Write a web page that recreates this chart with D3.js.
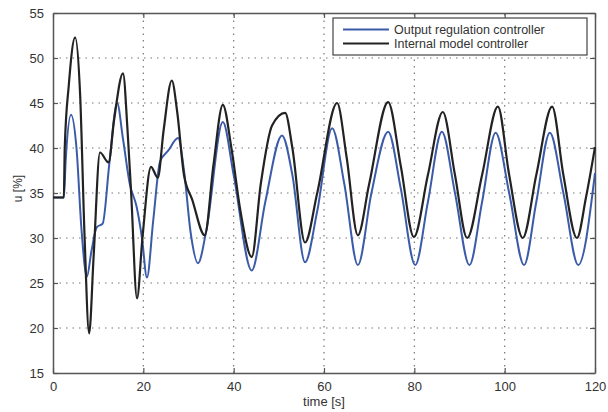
<!DOCTYPE html>
<html>
<head>
<meta charset="utf-8">
<script src="https://cdn.jsdelivr.net/npm/d3@7"></script>
<style>
  body { margin: 0; background: #fff; }
  text { font-family: "Liberation Sans", Arial, sans-serif; fill: #333; }
</style>
</head>
<body>
<div class="graph"></div>
<script>
const w = 608;
const h = 412;
const margin = {top: 13, right: 13, bottom: 39, left: 53};

const xTicks = [0, 20, 40, 60, 80, 100, 120];
const yTicks = [15, 20, 25, 30, 35, 40, 45, 50, 55];
const seriesNames = ["Output regulation controller", "Internal model controller"];
const seriesColors = ["#3b5ba9", "#222"];

// [time s, u %]
const outputRegulation = [
  [0, 34.5], [2.4, 34.5], [2.8, 38.5], [4, 43.7], [5.2, 40], [6.3, 31], [7.5, 25.7],
  [8.5, 28.5], [9.7, 31.2], [11, 31.6], [12.5, 38.4], [14.2, 45], [15.5, 41],
  [17, 36], [18.5, 33.5], [19.7, 30], [20.8, 25.6], [22.2, 32], [23.7, 38.5],
  [25.5, 39.7], [27.7, 41.1], [29, 37.5], [30.5, 30.5], [32.1, 27.2], [34, 31],
  [37.6, 42.9], [40, 37], [44, 26.4], [47, 34], [50.7, 41.4], [53, 37],
  [55.8, 27.3], [58.5, 33], [61.8, 42.2], [64.5, 36], [67.5, 27], [70.5, 35],
  [74.2, 41.8], [77, 35.5], [80.2, 27], [83, 34], [86.1, 41.8], [89, 35],
  [92.2, 27], [95, 34], [98, 41.7], [101, 35], [104.3, 27], [107, 34],
  [110, 41.7], [113, 35], [116.3, 27], [120, 37.2]
];

const internalModel = [
  [0, 34.5], [2.4, 34.5], [2.6, 40], [3.5, 47], [4.9, 52.3], [6, 46], [7, 30],
  [8, 19.4], [9, 28], [10.4, 39.5], [12.3, 38.4], [13.5, 43], [15.5, 48.3],
  [16.5, 42], [17.3, 35], [18.6, 23.3], [19.8, 30], [21.7, 37.9], [23.2, 36.7],
  [24.5, 42], [26.3, 47.5], [27.5, 44], [29, 37], [30.8, 34.3], [33.6, 30.3],
  [35.5, 38], [37.6, 44.8], [39.5, 40], [41.5, 33], [44, 27.9], [46, 36],
  [48.5, 42.5], [51.4, 43.9], [53, 40], [55.8, 29.5], [58.5, 35], [62.9, 45],
  [65, 39], [67.5, 30.3], [70, 36], [74.2, 45.1], [77, 38], [79.9, 30.1],
  [83, 37], [86.3, 44], [89, 37], [91.7, 30], [95, 37], [98.5, 44.6], [101, 37],
  [104, 30], [107, 37], [110.5, 44.6], [113, 37], [116, 30], [118, 34.5], [120, 40.1]
];

const x = d3.scaleLinear().domain([0, 120]).range([margin.left, w - margin.right]);
const y = d3.scaleLinear().domain([15, 55]).range([h - margin.bottom, margin.top]);

const svg = d3.select(".graph")
              .append("svg")
              .attr("width", w)
              .attr("height", h);

// grid
svg.append("g")
   .selectAll("line")
   .data(xTicks.slice(1, -1))
   .enter().append("line")
   .attr("x1", d => x(d)).attr("x2", d => x(d))
   .attr("y1", y(15)).attr("y2", y(55))
   .attr("stroke", "#777").attr("stroke-width", 1.2)
   .attr("stroke-dasharray", "1.5,5");

svg.append("g")
   .selectAll("line")
   .data(yTicks.slice(1, -1))
   .enter().append("line")
   .attr("x1", x(0)).attr("x2", x(120))
   .attr("y1", d => y(d)).attr("y2", d => y(d))
   .attr("stroke", "#777").attr("stroke-width", 1.2)
   .attr("stroke-dasharray", "1.5,5");

// axes (matlab style, ticks inward, all four sides)
const axisStyle = g => {
  g.select(".domain").attr("stroke", "#555").attr("stroke-width", 1.5);
  g.selectAll(".tick line").attr("stroke", "#555").attr("stroke-width", 1.2);
  g.selectAll("text").style("font-size", "13px").attr("fill", "#333");
};

svg.append("g")
   .attr("transform", `translate(0,${y(15)})`)
   .call(d3.axisBottom(x).tickValues(xTicks).tickSizeInner(-5).tickSizeOuter(0).tickPadding(9))
   .call(axisStyle);

svg.append("g")
   .attr("transform", `translate(0,${y(55)})`)
   .call(d3.axisTop(x).tickValues(xTicks).tickSizeInner(-5).tickSizeOuter(0).tickFormat(""))
   .call(axisStyle);

svg.append("g")
   .attr("transform", `translate(${x(0)},0)`)
   .call(d3.axisLeft(y).tickValues(yTicks).tickSizeInner(-5).tickSizeOuter(0).tickPadding(9))
   .call(axisStyle);

svg.append("g")
   .attr("transform", `translate(${x(120)},0)`)
   .call(d3.axisRight(y).tickValues(yTicks).tickSizeInner(-5).tickSizeOuter(0).tickFormat(""))
   .call(axisStyle);

// lines
const line = d3.line()
               .x(d => x(d[0]))
               .y(d => y(d[1]))
               .curve(d3.curveMonotoneX);

svg.append("path")
   .datum(outputRegulation)
   .attr("fill", "none")
   .attr("stroke", seriesColors[0])
   .attr("stroke-width", 2)
   .attr("d", line);

svg.append("path")
   .datum(internalModel)
   .attr("fill", "none")
   .attr("stroke", seriesColors[1])
   .attr("stroke-width", 2.2)
   .attr("d", line);

// axis labels
svg.append("text")
   .attr("x", (x(0) + x(120)) / 2)
   .attr("y", 406)
   .attr("text-anchor", "middle")
   .style("font-size", "13px")
   .text("time [s]");

svg.append("text")
   .attr("transform", `translate(22,${y(35.5)}) rotate(-90)`)
   .attr("text-anchor", "middle")
   .style("font-size", "12px")
   .text("u [%]");

// legend
const legend = svg.append("g").attr("transform", "translate(333,18)");
legend.append("rect")
      .attr("width", 254).attr("height", 37)
      .attr("fill", "#fff")
      .attr("stroke", "#444").attr("stroke-width", 1.2);

legend.selectAll("g")
      .data(seriesNames)
      .enter().append("g")
      .attr("transform", (d, i) => `translate(0,${11.5 + i * 14})`)
      .each(function(d, i) {
        const g = d3.select(this);
        g.append("line")
         .attr("x1", 10).attr("x2", 56)
         .attr("stroke", seriesColors[i]).attr("stroke-width", 2);
        g.append("text")
         .attr("x", 61).attr("dy", "0.35em")
         .style("font-size", "12.5px")
         .text(d);
      });
</script>
</body>
</html>
